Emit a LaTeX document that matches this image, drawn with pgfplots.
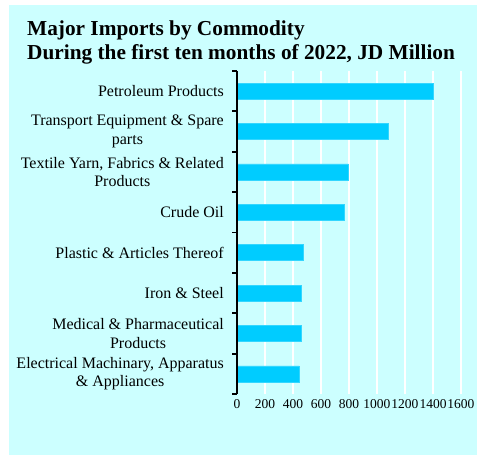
\documentclass[border=0pt]{standalone}
\usepackage{fontspec}
\setmainfont{Liberation Serif}
\usepackage{pgfplots}
\pgfplotsset{compat=1.18}
\definecolor{panel}{HTML}{CCFFFF}
\definecolor{barc}{HTML}{00CCFF}
\begin{document}
\begin{tikzpicture}
\useasboundingbox (0,0) rectangle (477pt,455pt);
\fill[white] (0,0) rectangle (477pt,455pt);
\fill[panel] (9pt,0) rectangle (477pt,450pt);
\node[anchor=base west, inner sep=0pt, font=\fontsize{21.3}{24}\selectfont\bfseries] at (27pt,419pt) {Major Imports by Commodity};
\node[anchor=base west, inner sep=0pt, font=\fontsize{21.3}{24}\selectfont\bfseries] at (27pt,395pt) {During the first ten months of 2022, JD Million};
\begin{axis}[
  at={(237pt,61pt)}, anchor=south west,
  scale only axis, width=224pt, height=323pt,
  xmin=0, xmax=1600, ymin=-0.5, ymax=7.5,
  xbar, bar width=16pt,
  axis x line*=bottom, axis y line*=left,
  axis line style={black, line width=2pt},
  x axis line style={draw=none},
  y axis line style={draw=black, line width=2pt},
  xtick={0,200,...,1600},
  extra x ticks={200,400,...,1600},
  extra x tick labels={},
  extra x tick style={grid=major, major grid style={white, line width=1.8pt}},
  ytick={0,...,7},
  yticklabels={{Electrical Machinary, Apparatus\\\& Appliances},{Medical \& Pharmaceutical\\Products},{Iron \& Steel},{Plastic \& Articles Thereof},{Crude Oil},{Textile Yarn, Fabrics \& Related\\Products},{Transport Equipment \& Spare\\parts},{Petroleum Products}},
  minor ytick={-0.5,0.5,...,7.5},
  major tick length=0pt,
  minor tick length=4.5pt,
  every minor tick/.style={black, line width=1.8pt},
  tick align=outside,
  yticklabel style={font=\fontsize{16}{18.5}\selectfont, align=center, inner sep=0pt, xshift=-13pt},
  xticklabel style={font=\fontsize{13.5}{15}\selectfont, yshift=-2pt},
  /pgf/number format/assume math mode=true,
  /pgf/number format/set thousands separator={},
  clip=false,
]
\addplot[fill=barc, draw=barc!80!white] coordinates {
(444,0) (459,1) (461,2) (471,3) (765,4) (796,5) (1077,6) (1403,7)};
\draw[black, line width=2pt] (axis cs:0,-0.5) -- (axis cs:0,7.5);
\end{axis}
\end{tikzpicture}
\end{document}
